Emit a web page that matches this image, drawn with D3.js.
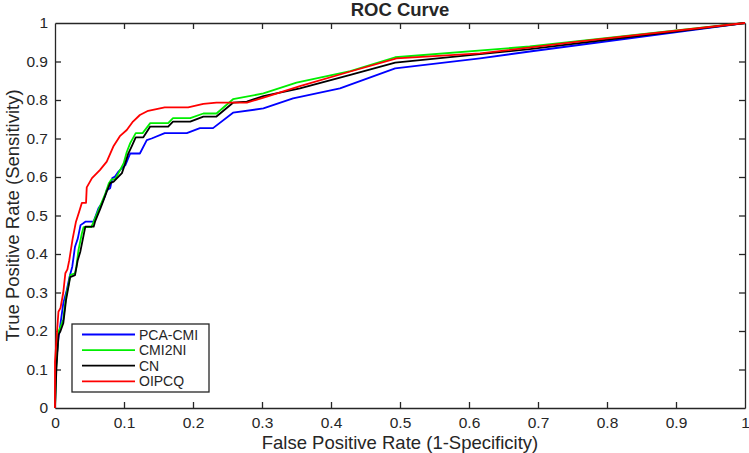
<!DOCTYPE html>
<html>
<head>
<meta charset="utf-8">
<script src="https://cdn.jsdelivr.net/npm/d3@7"></script>
<style>
  html, body { margin: 0; padding: 0; background: #fff; }
  svg { display: block; }
  text { font-family: "Liberation Sans", Arial, Helvetica, sans-serif; fill: #262626; }
</style>
</head>
<body>
<svg id="chart" width="749" height="453"></svg>
<script>
// ---------------- data ----------------
const seriesNames = ["PCA-CMI", "CMI2NI", "CN", "OIPCQ"];
const seriesColors = ["#0000ff", "#00ee00", "#000000", "#ff0000"];

const pcaFpr = [0, 0.001, 0.003, 0.005, 0.008, 0.012, 0.017, 0.021, 0.025, 0.029, 0.033, 0.037, 0.041, 0.044, 0.056, 0.063, 0.068, 0.072, 0.075, 0.08, 0.083, 0.087, 0.092, 0.097, 0.102, 0.109, 0.123, 0.133, 0.14, 0.159, 0.191, 0.21, 0.229, 0.258, 0.302, 0.345, 0.413, 0.493, 0.616, 0.688, 1];
const pcaTpr = [0, 0.1, 0.143, 0.18, 0.22, 0.272, 0.306, 0.34, 0.367, 0.419, 0.44, 0.475, 0.48, 0.484, 0.484, 0.519, 0.532, 0.549, 0.566, 0.571, 0.597, 0.601, 0.614, 0.623, 0.631, 0.661, 0.661, 0.696, 0.7, 0.714, 0.714, 0.727, 0.727, 0.767, 0.778, 0.804, 0.83, 0.882, 0.908, 0.926, 1];

const cmiFpr = [0, 0.0015, 0.005, 0.008, 0.012, 0.016, 0.02, 0.022, 0.029, 0.031, 0.034, 0.039, 0.0415, 0.0526, 0.056, 0.063, 0.073, 0.078, 0.082, 0.087, 0.092, 0.0995, 0.104, 0.109, 0.117, 0.127, 0.138, 0.164, 0.171, 0.196, 0.215, 0.234, 0.258, 0.302, 0.35, 0.428, 0.493, 0.688, 1];
const cmiTpr = [0, 0.1, 0.198, 0.21, 0.23, 0.29, 0.324, 0.345, 0.35, 0.367, 0.41, 0.454, 0.47, 0.47, 0.484, 0.514, 0.557, 0.584, 0.594, 0.594, 0.61, 0.636, 0.665, 0.688, 0.714, 0.714, 0.74, 0.74, 0.753, 0.753, 0.765, 0.765, 0.802, 0.817, 0.845, 0.875, 0.911, 0.939, 1];

const cnFpr = [0, 0.002, 0.005, 0.008, 0.012, 0.016, 0.02, 0.022, 0.029, 0.033, 0.0367, 0.0415, 0.044, 0.056, 0.058, 0.066, 0.075, 0.08, 0.085, 0.097, 0.101, 0.106, 0.111, 0.117, 0.128, 0.138, 0.164, 0.171, 0.196, 0.215, 0.234, 0.258, 0.278, 0.302, 0.355, 0.428, 0.493, 0.688, 1];
const cnTpr = [0, 0.1, 0.19, 0.2, 0.22, 0.28, 0.32, 0.34, 0.345, 0.384, 0.406, 0.449, 0.471, 0.471, 0.484, 0.519, 0.562, 0.584, 0.588, 0.61, 0.631, 0.66, 0.679, 0.703, 0.703, 0.731, 0.731, 0.744, 0.744, 0.757, 0.757, 0.793, 0.796, 0.81, 0.83, 0.865, 0.897, 0.932, 1];

const oipcqFpr = [0, 0, 0.003, 0.005, 0.008, 0.012, 0.015, 0.018, 0.0207, 0.0256, 0.0304, 0.035, 0.039, 0.045, 0.046, 0.0536, 0.065, 0.075, 0.0845, 0.094, 0.104, 0.113, 0.123, 0.135, 0.159, 0.193, 0.215, 0.234, 0.278, 0.307, 0.355, 0.428, 0.495, 0.616, 0.761, 1];
const oipcqTpr = [0, 0.12, 0.2, 0.25, 0.26, 0.3, 0.35, 0.36, 0.384, 0.44, 0.484, 0.51, 0.533, 0.533, 0.573, 0.597, 0.618, 0.64, 0.679, 0.706, 0.722, 0.744, 0.761, 0.772, 0.781, 0.781, 0.79, 0.793, 0.793, 0.809, 0.836, 0.874, 0.908, 0.921, 0.952, 1];

const xTicks = [0, 0.1, 0.2, 0.3, 0.4, 0.5, 0.6, 0.7, 0.8, 0.9, 1];
const yTicks = [0, 0.1, 0.2, 0.3, 0.4, 0.5, 0.6, 0.7, 0.8, 0.9, 1];
const titleText = "ROC Curve";
const xLabelText = "False Positive Rate (1-Specificity)";
const yLabelText = "True Positive Rate (Sensitivity)";

// ---------------- layout ----------------
const svg = d3.select("#chart");
const M = { left: 55, right: 745, top: 23, bottom: 408 };
const x = d3.scaleLinear().domain([0, 1]).range([M.left, M.right]);
const y = d3.scaleLinear().domain([0, 1]).range([M.bottom, M.top]);
const axisColor = "#262626";
const tickLen = 6;

const seriesData = [
  { fpr: pcaFpr, tpr: pcaTpr },
  { fpr: cmiFpr, tpr: cmiTpr },
  { fpr: cnFpr, tpr: cnTpr },
  { fpr: oipcqFpr, tpr: oipcqTpr }
].map((s, i) => ({
  name: seriesNames[i],
  color: seriesColors[i],
  points: s.fpr.map((v, j) => [v, s.tpr[j]])
}));

// axes (ticks inward on all four sides)
const fmt = d => (d === 0 || d === 1) ? String(d) : d3.format(".1f")(d);

const gB = svg.append("g").attr("transform", `translate(0,${M.bottom})`)
  .call(d3.axisBottom(x).tickValues(xTicks).tickFormat(fmt).tickSizeInner(-tickLen).tickSizeOuter(0).tickPadding(9));
const gT = svg.append("g").attr("transform", `translate(0,${M.top})`)
  .call(d3.axisTop(x).tickValues(xTicks).tickFormat("").tickSizeInner(-tickLen).tickSizeOuter(0));
const gL = svg.append("g").attr("transform", `translate(${M.left},0)`)
  .call(d3.axisLeft(y).tickValues(yTicks).tickFormat(fmt).tickSizeInner(-tickLen).tickSizeOuter(0).tickPadding(7));
const gR = svg.append("g").attr("transform", `translate(${M.right},0)`)
  .call(d3.axisRight(y).tickValues(yTicks).tickFormat("").tickSizeInner(-tickLen).tickSizeOuter(0));

[gB, gT, gL, gR].forEach(g => {
  g.selectAll(".domain").attr("stroke", axisColor).attr("stroke-width", 1.3);
  g.selectAll(".tick line").attr("stroke", axisColor).attr("stroke-width", 1.3);
  g.selectAll(".tick text").attr("fill", axisColor)
    .style("font-family", "'Liberation Sans', Arial, sans-serif").style("font-size", "15.5px");
});
[gB, gT, gL, gR].forEach(g =>
  g.selectAll(".tick").filter(d => d === 0 || d === 1).select("line").remove());

// curves (drawn over the frame, as in the reference)
svg.append("defs").append("clipPath").attr("id", "clip")
  .append("rect").attr("x", M.left - 2).attr("y", M.top - 2)
  .attr("width", M.right - M.left + 4).attr("height", M.bottom - M.top + 4);

const line = d3.line().x(d => x(d[0])).y(d => y(d[1]));
svg.append("g").attr("clip-path", "url(#clip)")
  .selectAll("path").data(seriesData).join("path")
  .attr("d", d => line(d.points))
  .attr("fill", "none")
  .attr("stroke", d => d.color)
  .attr("stroke-width", 1.8)
  .attr("stroke-linejoin", "round");

// title and axis labels
svg.append("text").attr("x", (M.left + M.right) / 2).attr("y", 15.5)
  .attr("text-anchor", "middle").style("font-size", "18.5px").style("font-weight", "bold")
  .attr("fill", "#000").text(titleText);
svg.append("text").attr("x", (M.left + M.right) / 2).attr("y", 448.5)
  .attr("text-anchor", "middle").style("font-size", "18.5px").text(xLabelText);
svg.append("text").attr("transform", `translate(19,${(M.top + M.bottom) / 2}) rotate(-90)`)
  .attr("text-anchor", "middle").style("font-size", "18.5px").text(yLabelText);

// legend
const rowGap = 15.6;
const lg = svg.append("g").attr("transform", "translate(72,324)");
lg.append("rect").attr("width", 137).attr("height", 68)
  .attr("fill", "#fff").attr("stroke", axisColor).attr("stroke-width", 1.3);
const rows = lg.selectAll("g.row").data(seriesData).join("g").attr("class", "row")
  .attr("transform", (d, i) => `translate(0,${10.5 + i * rowGap})`);
rows.append("line").attr("x1", 10).attr("x2", 63).attr("y1", 0).attr("y2", 0)
  .attr("stroke", d => d.color).attr("stroke-width", 1.8);
rows.append("text").attr("x", 67).attr("y", 5).style("font-size", "14px")
  .attr("fill", "#000").text(d => d.name);
</script>
</body>
</html>
